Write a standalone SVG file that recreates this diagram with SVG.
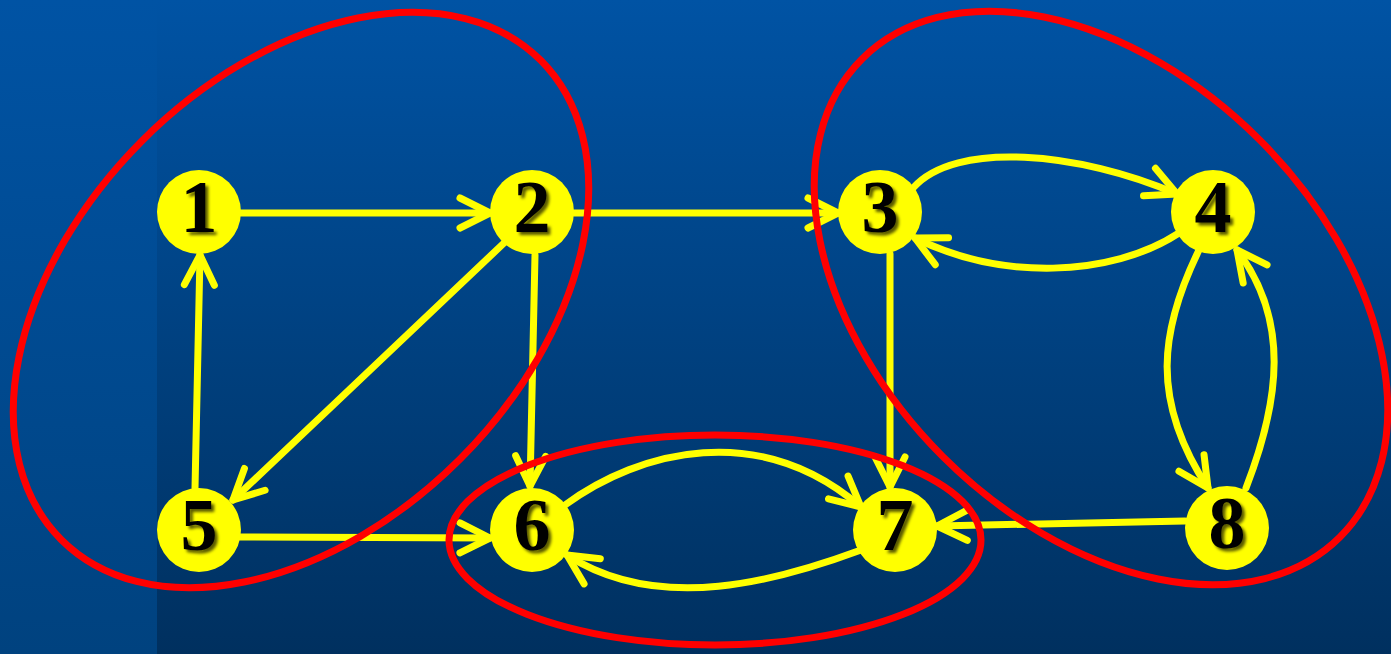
<svg xmlns="http://www.w3.org/2000/svg" width="1391" height="654" viewBox="0 0 1391 654">
<style>
.edge{fill:none;stroke:#ffff00;stroke-width:7;stroke-linecap:round;stroke-linejoin:round;marker-end:url(#arr)}
.node circle{fill:#ffff00}
.node text{font-family:"Liberation Serif","Times New Roman",serif;font-weight:bold;font-size:74px;fill:#000;text-anchor:middle;filter:url(#sh)}
.group{fill:none;stroke:#ff0000;stroke-width:7}
</style>
<defs>
<linearGradient id="bgMain" x1="0" y1="0" x2="0" y2="1">
<stop offset="0" stop-color="#0053a4"/>
<stop offset="1" stop-color="#00305f"/>
</linearGradient>
<linearGradient id="bgLeft" x1="0" y1="0" x2="0" y2="1">
<stop offset="0" stop-color="#0053a4"/>
<stop offset="1" stop-color="#00427f"/>
</linearGradient>
<marker id="arr" markerUnits="userSpaceOnUse" viewBox="-40 -25 50 50" refX="0" refY="0" markerWidth="50" markerHeight="50" orient="auto" overflow="visible">
<path d="M-30,-15 L0,0 L-30,15" fill="none" stroke="#ffff00" stroke-width="7" stroke-linecap="round" stroke-linejoin="round"/>
</marker>
<filter id="sh" x="-20%" y="-20%" width="150%" height="150%">
<feDropShadow dx="3" dy="3" stdDeviation="1.6" flood-color="#000" flood-opacity="0.65"/>
</filter>
</defs>
<rect x="0" y="0" width="1391" height="654" fill="url(#bgMain)"/>
<rect x="0" y="0" width="157" height="654" fill="url(#bgLeft)"/>

<g id="connectors">
<path class="edge" d="M241,213 L490,213"/>
<path class="edge" d="M574,213 L838,213"/>
<path class="edge" d="M195,488 L200,255"/>
<path class="edge" d="M504,243 L233,500"/>
<path class="edge" d="M535,255 L530,486"/>
<path class="edge" d="M240,537 L490,538"/>
<path class="edge" d="M890,254 L890,487"/>
<path class="edge" d="M1185,521 L937,526"/>
<path class="edge" d="M913,188 C955,140 1080,152 1177,194"/>
<path class="edge" d="M1179,233 C1110,278 1000,280 915,238"/>
<path class="edge" d="M1199,250 C1160,330 1150,400 1208,488"/>
<path class="edge" d="M1246,488 C1280,400 1290,320 1237,250"/>
<path class="edge" d="M565,505 C640,450 760,420 861,507"/>
<path class="edge" d="M861,550 C780,580 660,615 567,555"/>
</g>

<g id="node1" class="node"><circle cx="199" cy="212" r="42"/><text x="199" y="232">1</text></g>
<g id="node2" class="node"><circle cx="532" cy="212" r="42"/><text x="532" y="232">2</text></g>
<g id="node3" class="node"><circle cx="880" cy="212" r="42"/><text x="880" y="232">3</text></g>
<g id="node4" class="node"><circle cx="1213" cy="212" r="42"/><text x="1213" y="232">4</text></g>
<g id="node5" class="node"><circle cx="199" cy="530" r="42"/><text x="199" y="550">5</text></g>
<g id="node6" class="node"><circle cx="532" cy="530" r="42"/><text x="532" y="550">6</text></g>
<g id="node7" class="node"><circle cx="895" cy="530" r="42"/><text x="895" y="550">7</text></g>
<g id="node8" class="node"><circle cx="1227" cy="528" r="42"/><text x="1227" y="548">8</text></g>

<g id="groups">
<ellipse id="groupA" class="group" cx="301" cy="300" rx="339" ry="225" transform="rotate(-45 301 300)"/>
<ellipse id="groupB" class="group" cx="1101" cy="298" rx="338" ry="224" transform="rotate(45 1101 298)"/>
<ellipse id="groupC" class="group" cx="715" cy="540" rx="266" ry="105"/>
</g>
</svg>
